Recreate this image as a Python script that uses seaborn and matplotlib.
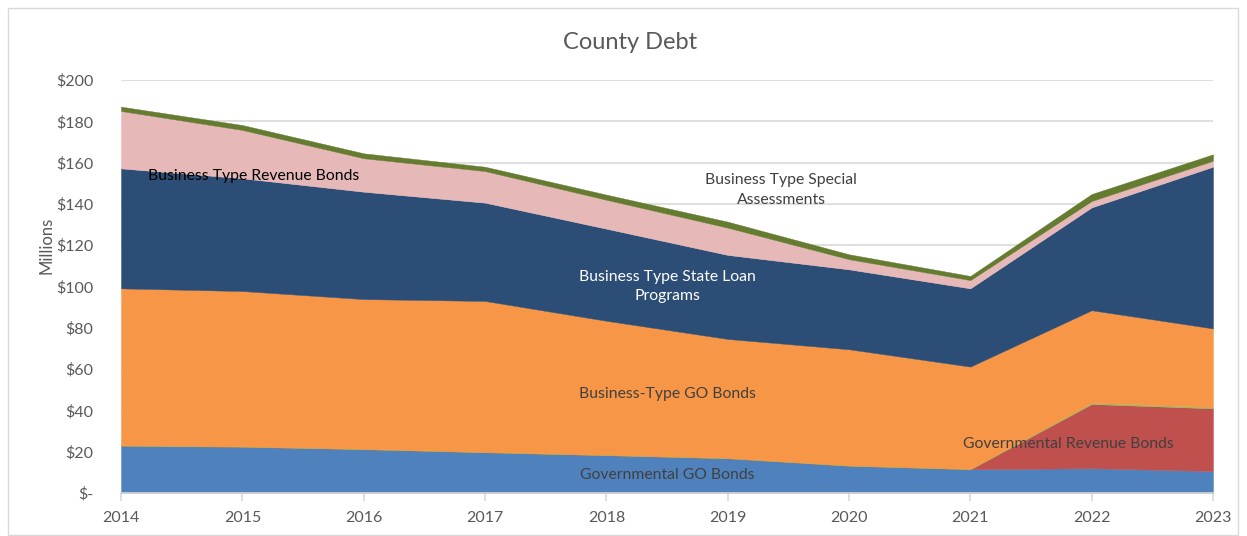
import matplotlib
matplotlib.use("Agg")
import matplotlib.pyplot as plt
from matplotlib.patches import Rectangle
import seaborn as sns
import pandas as pd

# County debt outstanding by category, in millions of dollars
years = [2014, 2015, 2016, 2017, 2018, 2019, 2020, 2021, 2022, 2023]
governmental_go = [22.9, 22.4, 21.2, 19.7, 18.3, 16.8, 13.2, 11.5, 12.0, 10.6]
governmental_revenue = [0, 0, 0, 0, 0, 0, 0, 0, 31.1, 30.4]
governmental_special = [0.2, 0.2, 0.2, 0.2, 0.2, 0.2, 0.2, 0.2, 0.6, 0.6]
business_go = [76.0, 75.2, 72.5, 73.1, 64.9, 57.6, 56.2, 49.5, 44.8, 38.1]
business_state_loan = [58.1, 54.6, 52.0, 47.6, 44.6, 40.7, 38.7, 37.9, 49.8, 78.3]
business_revenue = [27.8, 23.4, 16.2, 15.3, 14.0, 13.2, 4.9, 4.0, 3.1, 2.9]
business_special = [2.1, 2.4, 2.4, 2.1, 2.5, 2.9, 2.4, 2.0, 3.4, 3.1]

series_names = [
    "Governmental GO Bonds",
    "Governmental Revenue Bonds",
    "Governmental Special Assessments",
    "Business-Type GO Bonds",
    "Business Type State Loan Programs",
    "Business Type Revenue Bonds",
    "Business Type Special Assessments",
]
series_colors = ["#4F81BD", "#C0504D", "#9BBB59", "#F79646", "#2C4D75", "#E6B9B8", "#647B30"]

y_ticks = [0, 20, 40, 60, 80, 100, 120, 140, 160, 180, 200]
y_tick_labels = ["$-", "$20", "$40", "$60", "$80", "$100", "$120", "$140", "$160", "$180", "$200"]

df = pd.DataFrame(
    {
        "Year": years,
        series_names[0]: governmental_go,
        series_names[1]: governmental_revenue,
        series_names[2]: governmental_special,
        series_names[3]: business_go,
        series_names[4]: business_state_loan,
        series_names[5]: business_revenue,
        series_names[6]: business_special,
    }
)

sns.set_theme(style="white")
plt.rcParams["font.family"] = ["Lato", "DejaVu Sans"]

W, H = 1247, 536
fig = plt.figure(figsize=(W / 100, H / 100), dpi=100)
ax = fig.add_axes([121 / W, (H - 493) / H, 1092 / W, 413 / H])

ax.stackplot(
    df["Year"],
    [df[n] for n in series_names],
    colors=series_colors,
    labels=series_names,
    edgecolor="face",
    linewidth=0.3,
    zorder=2,
)

ax.set_xlim(years[0], years[-1])
ax.set_ylim(0, 200)
ax.set_xticks(years)
ax.set_xticklabels([str(y) for y in years])
ax.set_yticks(y_ticks)
ax.set_yticklabels(y_tick_labels)

ax.grid(axis="y", color="#D9D9D9", linewidth=1.2, zorder=0)
ax.grid(axis="x", visible=False)
ax.set_axisbelow(True)
for side in ["top", "right", "left"]:
    ax.spines[side].set_visible(False)
ax.spines["bottom"].set_color("#D9D9D9")
ax.spines["bottom"].set_linewidth(1.2)

ax.tick_params(axis="x", which="both", bottom=True, length=6, width=1.2,
               color="#D9D9D9", labelsize=11.5, labelcolor="#595959", pad=7)
ax.tick_params(axis="y", length=0, labelsize=11.5, labelcolor="#595959", pad=20)

ax.set_ylabel("Millions", fontsize=12, color="#595959")
ax.yaxis.set_label_coords(-0.0605, 0.60)
fig.text(630 / W, 1 - 42 / H, "County Debt", ha="center", va="center",
         fontsize=17, color="#595959")

# In-area series labels
lab = dict(fontsize=11.3, zorder=5)
ax.text(2014.22, 153.5, "Business Type Revenue Bonds", ha="left", va="center", color="black", **lab)
ax.text(2019.44, 146.7, "Business Type Special\nAssessments", ha="center", va="center",
        color="#404040", linespacing=1.5, **lab)
ax.text(2018.5, 100.0, "Business Type State Loan\nPrograms", ha="center", va="center",
        color="white", linespacing=1.5, **lab)
ax.text(2018.5, 47.9, "Business-Type GO Bonds", ha="center", va="center", color="#404040", **lab)
ax.text(2018.5, 8.7, "Governmental GO Bonds", ha="center", va="center", color="#404040", **lab)
ax.text(2021.81, 23.7, "Governmental Revenue Bonds", ha="center", va="center", color="#404040", **lab)

# Chart area border
fig.patches.append(Rectangle((8 / W, 1 / H), 1230 / W, (H - 9) / H, transform=fig.transFigure,
                             fill=False, edgecolor="#D9D9D9", linewidth=1.0))

fig.savefig("out.png", dpi=100, facecolor="white")
